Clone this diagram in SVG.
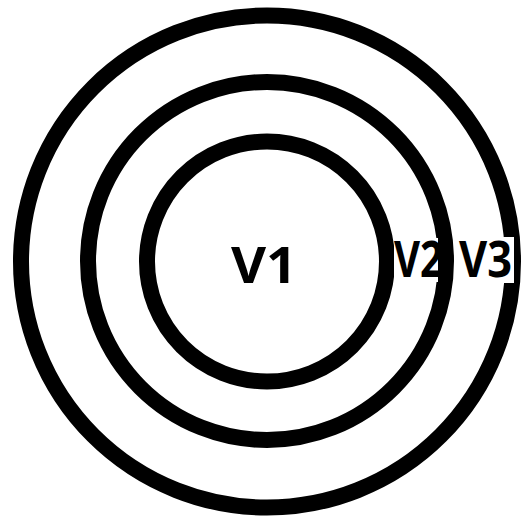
<svg xmlns="http://www.w3.org/2000/svg" width="524" height="516" viewBox="0 0 524 516">
<style>
.ring{fill:none;stroke:#000;stroke-width:16}
.lbl{font-family:"Noto Sans","DejaVu Sans",sans-serif;font-weight:bold;font-size:50px;fill:#000}
.bg{fill:#fff}
</style>
<rect width="524" height="516" fill="#fff"/>
<g id="V3"><circle class="ring" cx="267" cy="261.5" r="246"/></g>
<g id="V2"><circle class="ring" cx="267" cy="261" r="179"/></g>
<g id="V1"><circle class="ring" cx="267" cy="261.5" r="120"/>
<text class="lbl" x="231" y="283" textLength="66" lengthAdjust="spacingAndGlyphs">V1</text></g>
<g id="connectors"></g>
<g id="labels">
<rect class="bg" x="394" y="238" width="44" height="44"/>
<text class="lbl" x="394" y="277" textLength="49" lengthAdjust="spacingAndGlyphs">V2</text>
<rect class="bg" x="455" y="237" width="59" height="46"/>
<text class="lbl" x="459" y="277" textLength="53" lengthAdjust="spacingAndGlyphs">V3</text>
</g>
</svg>
